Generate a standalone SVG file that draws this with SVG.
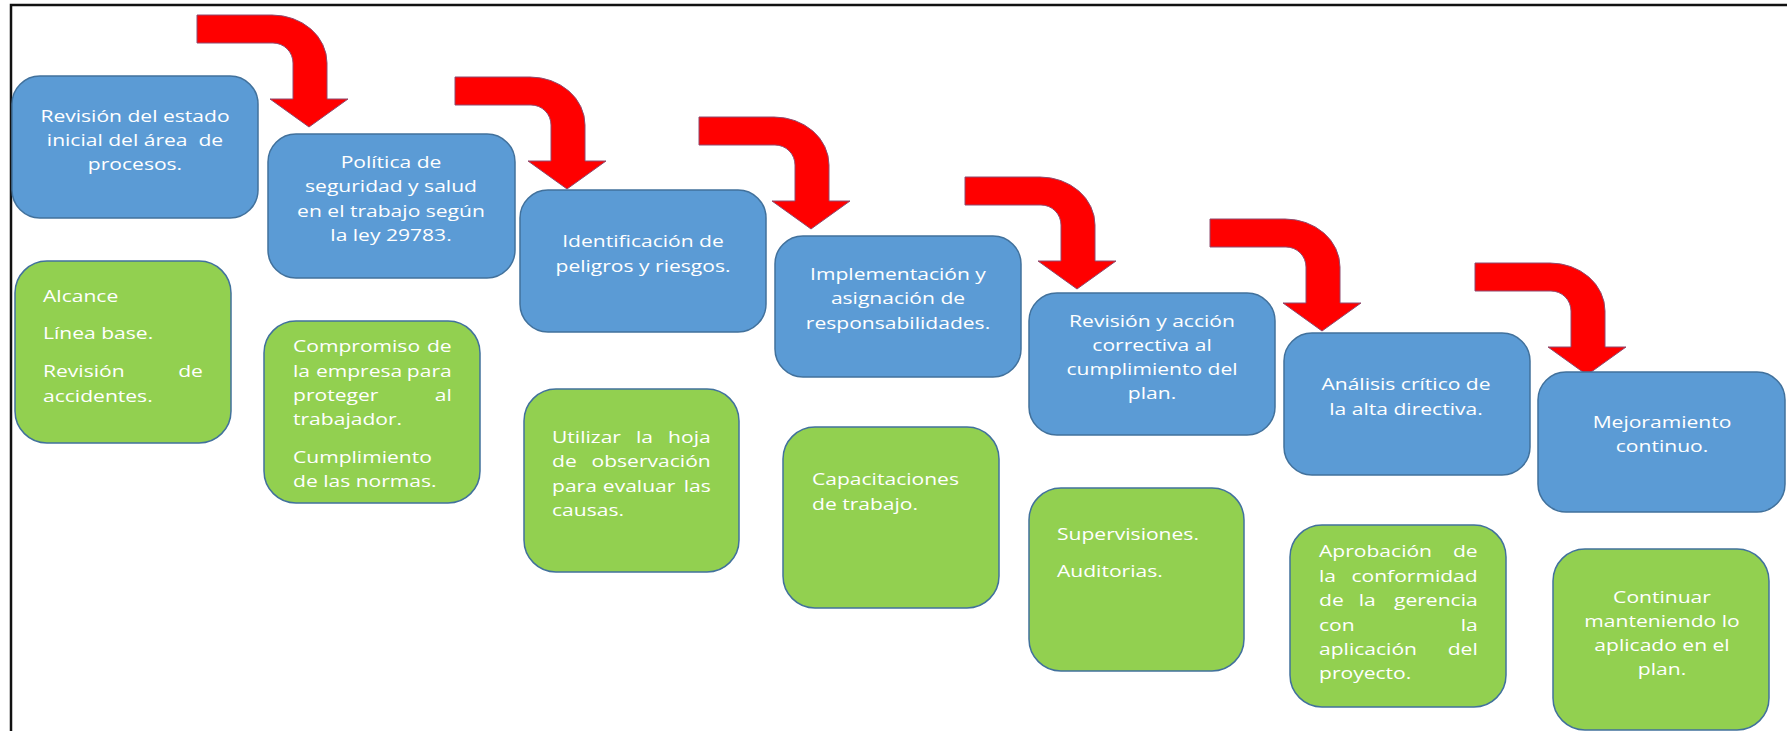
<svg xmlns="http://www.w3.org/2000/svg" width="1787" height="731" viewBox="0 0 1787 731">
<style>
.frame{fill:none;stroke:#111;stroke-width:2.5}
.blue{fill:#5B9BD5;stroke:#41719C;stroke-width:1.5}
.green{fill:#92D050;stroke:#41719C;stroke-width:1.5}
.arrow{fill:#FF0000;stroke:#8E4B6E;stroke-width:1}
text{font-family:"Open Sans","Liberation Sans",sans-serif;font-size:17px;fill:#FFFFFF}
.c{text-anchor:middle}
.e{text-anchor:end}
</style>
<rect width="1787" height="731" fill="#FFFFFF"/>
<path class="frame" d="M11,731 V5 H1787"/>

<g id="connectors">
<path class="arrow" d="M197,15 H272 A55 48 0 0 1 327,63 V99 H348 L309,127 L270,99 H293 V63 A20 20 0 0 0 273,43 H197 Z"/>
<path class="arrow" d="M455,77 H530 A55 48 0 0 1 585,125 V161 H606 L567,189 L528,161 H551 V125 A20 20 0 0 0 531,105 H455 Z"/>
<path class="arrow" d="M699,117 H774 A55 48 0 0 1 829,165 V201 H850 L811,229 L772,201 H795 V165 A20 20 0 0 0 775,145 H699 Z"/>
<path class="arrow" d="M965,177 H1040 A55 48 0 0 1 1095,225 V261 H1116 L1077,289 L1038,261 H1061 V225 A20 20 0 0 0 1041,205 H965 Z"/>
<path class="arrow" d="M1210,219 H1285 A55 48 0 0 1 1340,267 V303 H1361 L1322,331 L1283,303 H1306 V267 A20 20 0 0 0 1286,247 H1210 Z"/>
<path class="arrow" d="M1475,263 H1550 A55 48 0 0 1 1605,311 V347 H1626 L1587,375 L1548,347 H1571 V311 A20 20 0 0 0 1551,291 H1475 Z"/>
</g>

<g id="step1">
<rect class="blue" x="12" y="76" width="246" height="142" rx="28"/>
<g transform="translate(135 0) scale(1.24 1)">
<text class="c" x="0" y="122">Revisión del estado</text>
<text class="c" x="0" y="146">inicial del área&#160; de</text>
<text class="c" x="0" y="170">procesos.</text>
</g>
</g>
<g id="step2">
<rect class="blue" x="268" y="134" width="247" height="144" rx="28"/>
<g transform="translate(391 0) scale(1.24 1)">
<text class="c" x="0" y="168">Política de</text>
<text class="c" x="0" y="192">seguridad y salud</text>
<text class="c" x="0" y="217">en el trabajo según</text>
<text class="c" x="0" y="241">la ley 29783.</text>
</g>
</g>
<g id="step3">
<rect class="blue" x="520" y="190" width="246" height="142" rx="28"/>
<g transform="translate(643 0) scale(1.24 1)">
<text class="c" x="0" y="247">Identificación de</text>
<text class="c" x="0" y="272">peligros y riesgos.</text>
</g>
</g>
<g id="step4">
<rect class="blue" x="775" y="236" width="246" height="141" rx="28"/>
<g transform="translate(898 0) scale(1.24 1)">
<text class="c" x="0" y="280">Implementación y</text>
<text class="c" x="0" y="304">asignación de</text>
<text class="c" x="0" y="329">responsabilidades.</text>
</g>
</g>
<g id="step5">
<rect class="blue" x="1029" y="293" width="246" height="142" rx="28"/>
<g transform="translate(1152 0) scale(1.24 1)">
<text class="c" x="0" y="327">Revisión y acción</text>
<text class="c" x="0" y="351">correctiva al</text>
<text class="c" x="0" y="375">cumplimiento del</text>
<text class="c" x="0" y="399">plan.</text>
</g>
</g>
<g id="step6">
<rect class="blue" x="1284" y="333" width="246" height="142" rx="28"/>
<g transform="translate(1406 0) scale(1.24 1)">
<text class="c" x="0" y="390">Análisis crítico de</text>
<text class="c" x="0" y="415">la alta directiva.</text>
</g>
</g>
<g id="step7">
<rect class="blue" x="1538" y="372" width="247" height="140" rx="28"/>
<g transform="translate(1662 0) scale(1.24 1)">
<text class="c" x="0" y="428">Mejoramiento</text>
<text class="c" x="0" y="452">continuo.</text>
</g>
</g>

<g id="detail1">
<rect class="green" x="15" y="261" width="216" height="182" rx="32"/>
<g transform="translate(43 0) scale(1.24 1)">
<text x="0" y="302">Alcance</text>
<text x="0" y="339">Línea base.</text>
<text x="0" y="377">Revisión</text><text class="e" x="129" y="377">de</text>
<text x="0" y="402">accidentes.</text>
</g>
</g>
<g id="detail2">
<rect class="green" x="264" y="321" width="216" height="182" rx="32"/>
<g transform="translate(293 0) scale(1.24 1)">
<text x="0" y="352">Compromiso</text><text class="e" x="128" y="352">de</text>
<text x="0" y="377">la</text><text x="18.5" y="377">empresa</text><text class="e" x="128" y="377">para</text>
<text x="0" y="401">proteger</text><text class="e" x="128" y="401">al</text>
<text x="0" y="425">trabajador.</text>
<text x="0" y="463">Cumplimiento</text>
<text x="0" y="487">de las normas.</text>
</g>
</g>
<g id="detail3">
<rect class="green" x="524" y="389" width="215" height="183" rx="32"/>
<g transform="translate(552 0) scale(1.24 1)">
<text x="0" y="443">Utilizar</text><text x="67.7" y="443">la</text><text class="e" x="128" y="443">hoja</text>
<text x="0" y="467">de</text><text class="e" x="128" y="467">observación</text>
<text x="0" y="492">para</text><text x="41" y="492">evaluar</text><text class="e" x="128" y="492">las</text>
<text x="0" y="516">causas.</text>
</g>
</g>
<g id="detail4">
<rect class="green" x="783" y="427" width="216" height="181" rx="32"/>
<g transform="translate(812 0) scale(1.24 1)">
<text x="0" y="485">Capacitaciones</text>
<text x="0" y="510">de trabajo.</text>
</g>
</g>
<g id="detail5">
<rect class="green" x="1029" y="488" width="215" height="183" rx="32"/>
<g transform="translate(1057 0) scale(1.24 1)">
<text x="0" y="540">Supervisiones.</text>
<text x="0" y="577">Auditorias.</text>
</g>
</g>
<g id="detail6">
<rect class="green" x="1290" y="525" width="216" height="182" rx="32"/>
<g transform="translate(1319 0) scale(1.24 1)">
<text x="0" y="557">Aprobación</text><text class="e" x="128" y="557">de</text>
<text x="0" y="582">la</text><text class="e" x="128" y="582">conformidad</text>
<text x="0" y="606">de</text><text x="32" y="606">la</text><text class="e" x="128" y="606">gerencia</text>
<text x="0" y="631">con</text><text class="e" x="128" y="631">la</text>
<text x="0" y="655">aplicación</text><text class="e" x="128" y="655">del</text>
<text x="0" y="679">proyecto.</text>
</g>
</g>
<g id="detail7">
<rect class="green" x="1553" y="549" width="216" height="181" rx="32"/>
<g transform="translate(1662 0) scale(1.24 1)">
<text class="c" x="0" y="603">Continuar</text>
<text class="c" x="0" y="627">manteniendo lo</text>
<text class="c" x="0" y="651">aplicado en el</text>
<text class="c" x="0" y="675">plan.</text>
</g>
</g>
</svg>
